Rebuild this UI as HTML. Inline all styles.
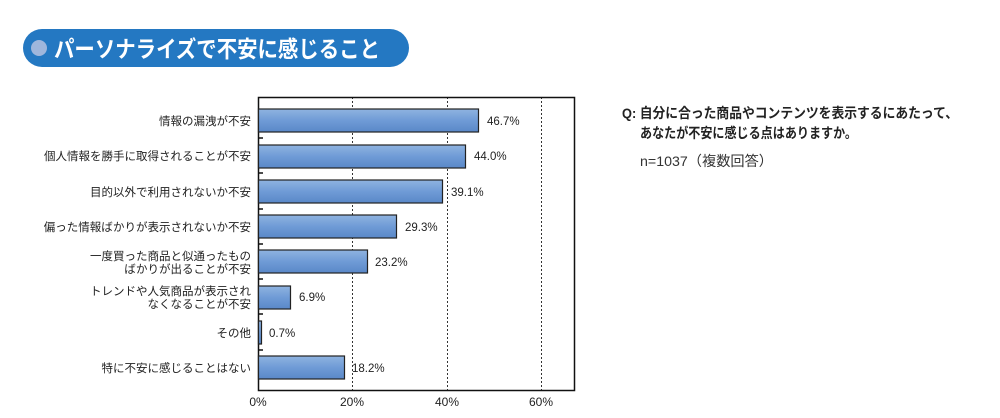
<!DOCTYPE html>
<html><head><meta charset="utf-8"><style>
body{margin:0;width:1000px;height:418px;background:#fff;overflow:hidden;font-family:"Liberation Sans","Noto Sans CJK JP",sans-serif;}
</style></head><body>
<svg width="1000" height="418" xmlns="http://www.w3.org/2000/svg" style="position:absolute;left:0;top:0">
<defs>
<linearGradient id="g" x1="0" y1="0" x2="0" y2="1">
<stop offset="0" stop-color="#8fb3e0"/><stop offset="0.5" stop-color="#6f9bd6"/><stop offset="1" stop-color="#5a88c8"/>
</linearGradient>
</defs>
<rect x="23" y="29" width="386" height="38" rx="19" fill="#2478c2"/>
<circle cx="39" cy="48" r="8" fill="#9fb6dc"/>
<text x="54" y="57" font-size="23" font-weight="bold" fill="#fff" font-family="Noto Sans CJK JP,sans-serif" textLength="326" lengthAdjust="spacingAndGlyphs">パーソナライズで不安に感じること</text>

<g stroke="#333" stroke-dasharray="2,2" stroke-width="1">
<line x1="352.5" y1="97" x2="352.5" y2="390"/>
<line x1="447.5" y1="97" x2="447.5" y2="390"/>
<line x1="541.5" y1="97" x2="541.5" y2="390"/>
</g>
<rect x="258.5" y="97.5" width="316" height="293" fill="none" stroke="#111" stroke-width="1.5"/>
<g stroke="#111" stroke-width="1.5">
<line x1="258" y1="138" x2="263" y2="138"/><line x1="258" y1="173" x2="263" y2="173"/>
<line x1="258" y1="209" x2="263" y2="209"/><line x1="258" y1="244" x2="263" y2="244"/>
<line x1="258" y1="279" x2="263" y2="279"/><line x1="258" y1="314" x2="263" y2="314"/>
<line x1="258" y1="350" x2="263" y2="350"/>
</g>
<g fill="url(#g)" stroke="#222" stroke-width="1.2">
<rect x="258.5" y="109" width="220" height="23"/>
<rect x="258.5" y="145" width="207" height="23"/>
<rect x="258.5" y="180" width="184" height="23"/>
<rect x="258.5" y="215" width="138" height="23"/>
<rect x="258.5" y="250" width="109" height="23"/>
<rect x="258.5" y="286" width="32" height="23"/>
<rect x="258.5" y="321" width="3" height="23"/>
<rect x="258.5" y="356" width="86" height="23"/>
</g>
<g font-size="11.5" fill="#222">
<text x="487" y="125">46.7%</text>
<text x="474" y="160">44.0%</text>
<text x="451" y="196">39.1%</text>
<text x="405" y="231">29.3%</text>
<text x="375" y="266">23.2%</text>
<text x="299" y="301">6.9%</text>
<text x="269" y="337">0.7%</text>
<text x="352" y="372">18.2%</text>
</g>
<g font-size="11.5" fill="#222" text-anchor="end">
<text x="251" y="125">情報の漏洩が不安</text>
<text x="251" y="160">個人情報を勝手に取得されることが不安</text>
<text x="251" y="196">目的以外で利用されないか不安</text>
<text x="251" y="231">偏った情報ばかりが表示されないか不安</text>
<text x="251" y="260">一度買った商品と似通ったもの</text>
<text x="251" y="273">ばかりが出ることが不安</text>
<text x="251" y="295">トレンドや人気商品が表示され</text>
<text x="251" y="308">なくなることが不安</text>
<text x="251" y="337">その他</text>
<text x="251" y="372">特に不安に感じることはない</text>
</g>
<g font-size="12" fill="#222" text-anchor="middle">
<text x="258" y="406">0%</text><text x="352" y="406">20%</text>
<text x="447" y="406">40%</text><text x="541" y="406">60%</text>
</g>
<g font-size="14" fill="#222" font-weight="bold">
<text x="622" y="118" textLength="336" lengthAdjust="spacingAndGlyphs">Q: 自分に合った商品やコンテンツを表示するにあたって、</text>
<text x="640" y="138" textLength="217" lengthAdjust="spacingAndGlyphs">あなたが不安に感じる点はありますか。</text>
</g>
<text x="640" y="166" font-size="14" fill="#333" textLength="133" lengthAdjust="spacingAndGlyphs">n=1037（複数回答）</text>
</svg>
</body></html>
